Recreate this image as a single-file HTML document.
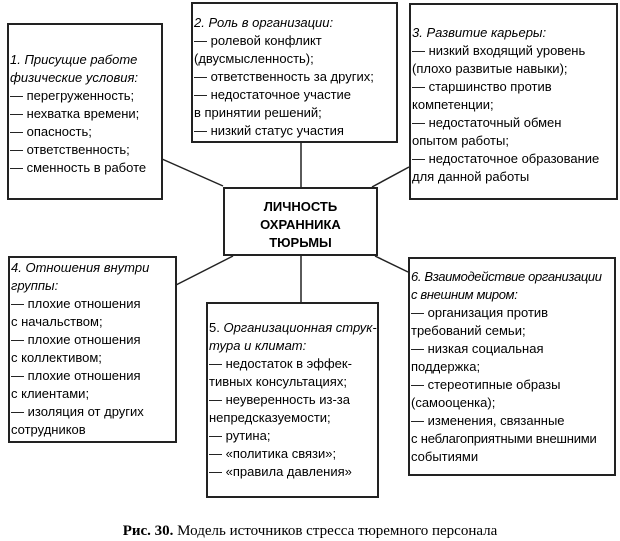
<!DOCTYPE html>
<html><head><meta charset="utf-8"><style>
body{margin:0;width:620px;height:540px;background:#fff;position:relative;overflow:hidden;font-family:"Liberation Sans",sans-serif;color:#000}
.b{position:absolute;border:2px solid #222;box-sizing:border-box}
.t{position:absolute;font-size:13px;line-height:18px;white-space:nowrap}
i{font-style:italic}
svg{position:absolute;left:0;top:0}
</style></head><body>
<svg width="620" height="540"><g stroke="#222" stroke-width="1.5" fill="none">
<line x1="162" y1="159" x2="223" y2="186"/>
<line x1="301" y1="142" x2="301" y2="187"/>
<line x1="409" y1="167" x2="372" y2="187"/>
<line x1="176" y1="285" x2="233" y2="256"/>
<line x1="301" y1="256" x2="301" y2="302"/>
<line x1="408" y1="272" x2="375" y2="256"/>
</g></svg>
<div class="b" style="left:7px;top:23px;width:156px;height:177px"></div>
<div class="b" style="left:191px;top:2px;width:207px;height:141px"></div>
<div class="b" style="left:409px;top:3px;width:209px;height:197px"></div>
<div class="b" style="left:223px;top:187px;width:155px;height:69px"></div>
<div class="b" style="left:8px;top:256px;width:169px;height:187px"></div>
<div class="b" style="left:206px;top:302px;width:173px;height:196px"></div>
<div class="b" style="left:408px;top:257px;width:208px;height:219px"></div>

<div class="t" style="left:10px;top:51px"><i>1. Присущие работе<br>физические условия:</i><br>— перегруженность;<br>— нехватка времени;<br>— опасность;<br>— ответственность;<br>— сменность в работе</div>
<div class="t" style="left:194px;top:14px"><i>2. Роль в организации:</i><br>— ролевой конфликт<br>(двусмысленность);<br>— ответственность за других;<br>— недостаточное участие<br>в принятии решений;<br>— низкий статус участия</div>
<div class="t" style="left:412px;top:24px"><i>3. Развитие карьеры:</i><br>— низкий входящий уровень<br>(плохо развитые навыки);<br>— старшинство против<br>компетенции;<br>— недостаточный обмен<br>опытом работы;<br>— недостаточное образование<br>для данной работы</div>
<div class="t" style="left:223px;top:198px;width:155px;text-align:center;font-weight:bold;font-size:13px">ЛИЧНОСТЬ<br>ОХРАННИКА<br>ТЮРЬМЫ</div>
<div class="t" style="left:11px;top:259px"><i>4. Отношения внутри<br>группы:</i><br>— плохие отношения<br>с начальством;<br>— плохие отношения<br>с коллективом;<br>— плохие отношения<br>с клиентами;<br>— изоляция от других<br>сотрудников</div>
<div class="t" style="left:209px;top:319px">5. <i>Организационная струк-<br>тура и климат:</i><br>— недостаток в эффек-<br>тивных консультациях;<br>— неуверенность из-за<br>непредсказуемости;<br>— рутина;<br>— «политика связи»;<br>— «правила давления»</div>
<div class="t" style="left:411px;top:268px"><i style="letter-spacing:-0.35px">6. Взаимодействие организации<br>с внешним миром:</i><br>— организация против<br>требований семьи;<br>— низкая социальная<br>поддержка;<br>— стереотипные образы<br>(самооценка);<br>— изменения, связанные<br><span style="letter-spacing:-0.2px">с неблагоприятными внешними</span><br>событиями</div>
<div class="t" style="left:0;top:521px;width:620px;text-align:center;font-family:'Liberation Serif',serif;font-size:15px;line-height:20px"><b>Рис. 30.</b> Модель источников стресса тюремного персонала</div>
</body></html>
